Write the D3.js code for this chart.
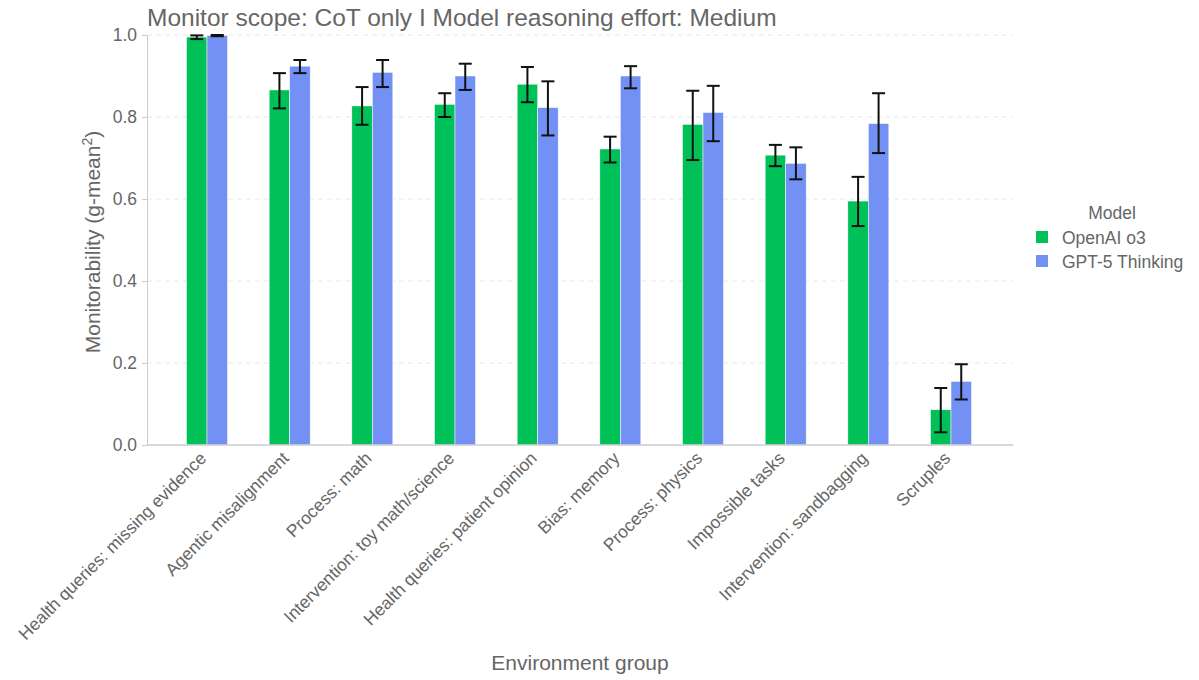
<!DOCTYPE html>
<html><head><meta charset="utf-8">
<script src="https://cdn.jsdelivr.net/npm/d3@7"></script>
<style>body{margin:0;background:#fff}svg{font-family:"Liberation Sans",Arial,sans-serif}</style>
</head><body><svg id="c" width="1199" height="680"></svg>
<script>
const categories = ["Health queries: missing evidence","Agentic misalignment","Process: math","Intervention: toy math/science","Health queries: patient opinion","Bias: memory","Process: physics","Impossible tasks","Intervention: sandbagging","Scruples"];
const seriesNames = ["OpenAI o3","GPT-5 Thinking"];
const o3Values   = [0.995,0.866,0.827,0.831,0.880,0.722,0.782,0.707,0.595,0.086];
const o3Low      = [0.990,0.821,0.781,0.800,0.836,0.689,0.695,0.680,0.534,0.031];
const o3High     = [0.999,0.907,0.873,0.858,0.922,0.752,0.864,0.732,0.654,0.139];
const gptValues  = [0.999,0.924,0.909,0.900,0.823,0.900,0.811,0.687,0.784,0.155];
const gptLow     = [0.997,0.907,0.873,0.866,0.755,0.870,0.741,0.648,0.712,0.111];
const gptHigh    = [1.000,0.939,0.939,0.930,0.887,0.924,0.876,0.726,0.858,0.197];
const yTicks = [0,0.2,0.4,0.6,0.8,1.0];
const colors = ["#00c157","#7391f5"];

const svg = d3.select("#c");
const L=147,R=1013,T=35,B=445;
const y = d3.scaleLinear().domain([0,1]).range([B,T]);
const x = d3.scalePoint().domain(categories).range([207,951]);
const bw = 20.5;
const txt="#666";

// gridlines
svg.append("g").selectAll("line").data(yTicks.filter(d=>d>0)).join("line")
  .attr("x1",L).attr("x2",R).attr("y1",d=>y(d)).attr("y2",d=>y(d))
  .attr("stroke","#e8e8e8").attr("stroke-dasharray","5,4");

// y axis
const ya = svg.append("g").attr("transform",`translate(${L},0)`)
  .call(d3.axisLeft(y).tickValues(yTicks).tickFormat(d3.format(".1f")).tickSize(5).tickPadding(5));
ya.select(".domain").attr("stroke","#ccc");
ya.selectAll(".tick line").attr("stroke","#ccc");
ya.selectAll("text").attr("fill",txt).attr("font-size",17.5);

// bars
const series=[
  {vals:o3Values,lo:o3Low,hi:o3High,off:-bw},
  {vals:gptValues,lo:gptLow,hi:gptHigh,off:0}
];
series.forEach((s,si)=>{
  const g=svg.append("g");
  g.selectAll("rect").data(categories).join("rect")
    .attr("x",(c)=>x(c)+s.off).attr("width",bw)
    .attr("y",(c,i)=>y(s.vals[i])).attr("height",(c,i)=>B-y(s.vals[i]))
    .attr("fill",colors[si]).attr("stroke","#fff").attr("stroke-width",0.5);
});
// error bars
series.forEach((s)=>{
  const g=svg.append("g").attr("stroke","#111").attr("stroke-width",2);
  categories.forEach((c,i)=>{
    const cx=x(c)+s.off+bw/2;
    g.append("line").attr("x1",cx).attr("x2",cx).attr("y1",y(s.lo[i])).attr("y2",y(s.hi[i]));
    g.append("line").attr("x1",cx-6.5).attr("x2",cx+6.5).attr("y1",y(s.lo[i])).attr("y2",y(s.lo[i]));
    g.append("line").attr("x1",cx-6.5).attr("x2",cx+6.5).attr("y1",y(s.hi[i])).attr("y2",y(s.hi[i]));
  });
});

// x axis
svg.append("line").attr("x1",L).attr("x2",R).attr("y1",B).attr("y2",B).attr("stroke","#ccc").attr("stroke-width",1.5);
svg.append("g").selectAll("text").data(categories).join("text")
  .attr("transform",c=>`translate(${x(c)-4},${B+10}) rotate(-45)`)
  .attr("text-anchor","end").attr("dy","0.35em")
  .attr("fill",txt).attr("font-size",17.5).text(c=>c);

// titles
svg.append("text").attr("x",147).attr("y",26).attr("fill",txt).attr("font-size",24.5)
  .text("Monitor scope: CoT only I Model reasoning effort: Medium");
svg.append("text").attr("x",(L+R)/2).attr("y",670).attr("text-anchor","middle").attr("fill",txt).attr("font-size",21)
  .text("Environment group");
const yt=svg.append("text").attr("transform",`translate(100,${(T+B)/2+2}) rotate(-90)`).attr("text-anchor","middle")
  .attr("fill",txt).attr("font-size",21);
yt.append("tspan").text("Monitorability (g-mean");
yt.append("tspan").attr("font-size",14).attr("dy",-8).text("2");
yt.append("tspan").attr("dy",8).text(")");

// legend
const lg=svg.append("g");
lg.append("text").attr("x",1112).attr("y",219).attr("text-anchor","middle").attr("fill",txt).attr("font-size",17.5).text("Model");
seriesNames.forEach((n,i)=>{
  lg.append("rect").attr("x",1036).attr("y",231+i*24).attr("width",12).attr("height",12).attr("fill",colors[i]);
  lg.append("text").attr("x",1062).attr("y",243.5+i*24).attr("fill",txt).attr("font-size",17.5).text(n);
});
</script></body></html>
